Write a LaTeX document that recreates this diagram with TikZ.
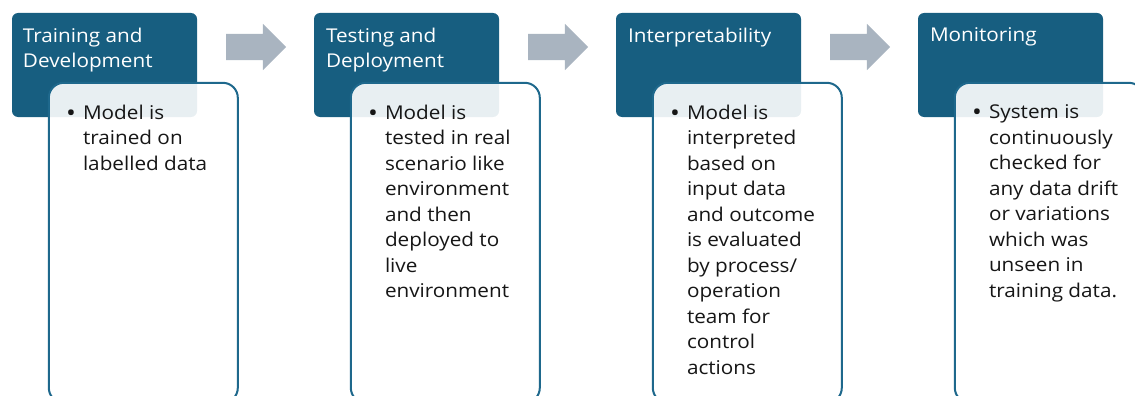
\documentclass[tikz,border=0pt]{standalone}
\usepackage{fontspec}
\setmainfont[FakeStretch=1.09]{Open Sans}
\usetikzlibrary{positioning, shapes.arrows}
\definecolor{stageblue}{RGB}{23,94,128}
\definecolor{frameblue}{RGB}{30,104,140}
\definecolor{arrowgray}{RGB}{169,180,192}
\definecolor{bodyink}{RGB}{22,22,22}
\newcommand{\stagebullet}{\llap{\raisebox{-2pt}{\fontsize{24}{25.5}\selectfont\textbullet}\hspace{7pt}}}

\begin{document}
\begin{tikzpicture}[x=1pt,y=-1pt,node distance=302pt,on grid,
    every node/.style={inner sep=0pt}]
  \tikzstyle{stageHead}=[rectangle,rounded corners=6pt,fill=stageblue,minimum width=185pt,minimum height=104pt]
  \tikzstyle{stageBody}=[rectangle,rounded corners=15pt,draw=frameblue,line width=2pt,fill=white,fill opacity=0.9,minimum width=189pt,minimum height=320pt,anchor=north west]
  \tikzstyle{headText}=[anchor=north west,align=left,text=white,font=\fontsize{19}{25.5}\selectfont]
  \tikzstyle{bodyText}=[anchor=north west,align=left,text=bodyink,font=\fontsize{19}{25.5}\selectfont]
  \tikzstyle{stepArrow}=[single arrow,fill=arrowgray,minimum height=60pt,single arrow head extend=10pt,inner ysep=13pt,inner xsep=0pt]
  \useasboundingbox (0,0) rectangle (1135,396);
  \clip (0,0) rectangle (1135,396);
  % Headers
  \node[stageHead] (h1) at (104.5,65) {};
  \node[stageHead] (h2) [right=of h1] {};
  \node[stageHead] (h3) [right=of h2] {};
  \node[stageHead] (h4) [right=of h3] {};
  % Arrows
  \node[stepArrow, right=145pt of h1, yshift=18pt] (a1) {};
  \node[stepArrow, right=145pt of h2, yshift=18pt] (a2) {};
  \node[stepArrow, right=145pt of h3, yshift=18pt] (a3) {};
  % Bodies
  \node[stageBody] (b1) at ([xshift=36pt,yshift=-69pt]h1.north west) {};
  \node[stageBody] (b2) at ([xshift=36pt,yshift=-69pt]h2.north west) {};
  \node[stageBody] (b3) at ([xshift=36pt,yshift=-69pt]h3.north west) {};
  \node[stageBody] (b4) at ([xshift=36pt,yshift=-69pt]h4.north west) {};
  % Titles
  \node[headText] (t1) at ([xshift=11pt,yshift=-15pt]h1.north west) {Training and\\Development};
  \node[headText] (t2) at ([xshift=12pt,yshift=-15pt]h2.north west) {Testing and\\Deployment};
  \node[headText] (t3) at ([xshift=12pt,yshift=-15pt]h3.north west) {Interpretability};
  \node[headText] (t4) at ([xshift=12pt,yshift=-15pt]h4.north west) {Monitoring};
  % Points
  \node[bodyText] (d1) at ([xshift=35pt,yshift=-23pt]b1.north west)
    {\stagebullet Model is\\trained on\\labelled data};
  \node[bodyText] (d2) at ([xshift=35pt,yshift=-23pt]b2.north west)
    {\stagebullet Model is\\tested in real\\scenario like\\environment\\and then\\deployed to\\live\\environment};
  \node[bodyText] (d3) at ([xshift=35pt,yshift=-23pt]b3.north west)
    {\stagebullet Model is\\interpreted\\based on\\input data\\and outcome\\is evaluated\\by process/\\operation\\team for\\control\\actions};
  \node[bodyText] (d4) at ([xshift=35pt,yshift=-23pt]b4.north west)
    {\stagebullet System is\\continuously\\checked for\\any data drift\\or variations\\which was\\unseen in\\training data.};

\end{tikzpicture}
\end{document}
